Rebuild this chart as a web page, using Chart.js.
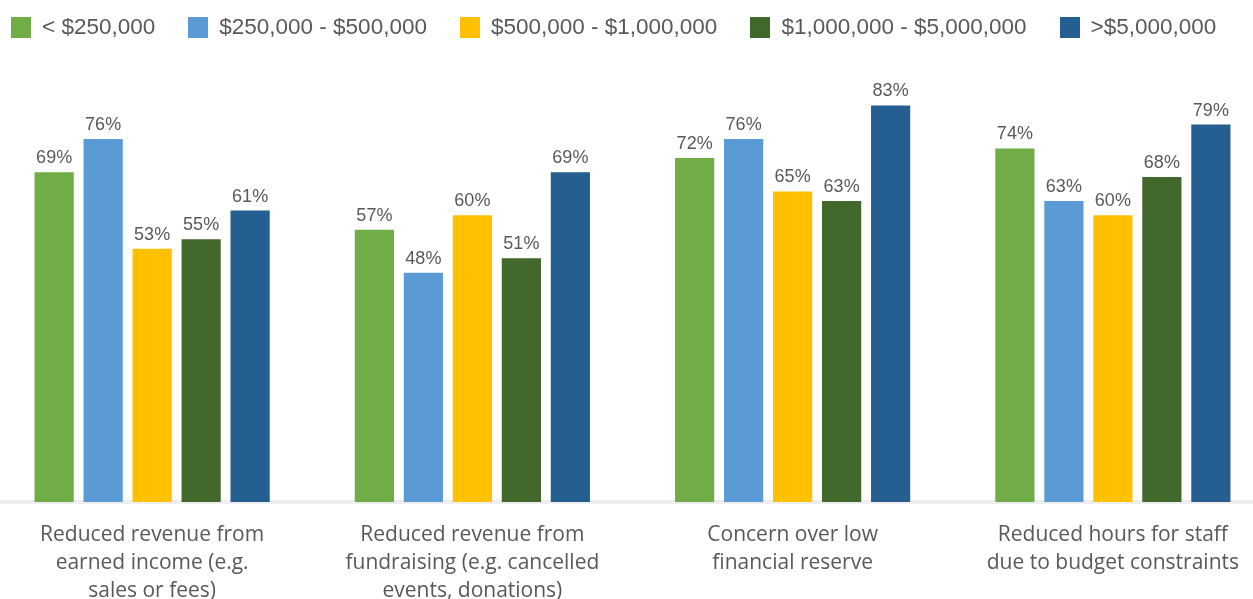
<!DOCTYPE html>
<html>
<head>
<meta charset="utf-8">
<script src="https://cdn.jsdelivr.net/npm/chart.js@4/dist/chart.umd.min.js"></script>
<style>
  html, body { margin: 0; padding: 0; background: #fff; overflow: hidden; }
  #wrap { position: absolute; left: -8px; top: 0; width: 1281px; height: 621px; }
  #legend { position: absolute; left: 11px; top: 14px; display: flex; align-items: center;
    font-family: "Liberation Sans", Arial, sans-serif; font-size: 22.5px; color: #595959; }
  #legend .item { display: flex; align-items: center; margin-right: 33px; }
  #legend .box { width: 20px; height: 21px; margin-right: 11px; }
</style>
</head>
<body>
<div id="wrap"><canvas id="mycanvas"></canvas></div>
<div id="legend"></div>
<script>
var categories = [
  ['Reduced revenue from', 'earned income (e.g.', 'sales or fees)'],
  ['Reduced revenue from', 'fundraising (e.g. cancelled', 'events, donations)'],
  ['Concern over low', 'financial reserve'],
  ['Reduced hours for staff', 'due to budget constraints']
];
var seriesNames = ['< $250,000', '$250,000 - $500,000', '$500,000 - $1,000,000', '$1,000,000 - $5,000,000', '>$5,000,000'];
var under250k = [69, 57, 72, 74];
var from250kTo500k = [76, 48, 76, 63];
var from500kTo1m = [53, 60, 65, 60];
var from1mTo5m = [55, 51, 63, 68];
var over5m = [61, 69, 83, 79];
var colors = ['#70AD47', '#5B9BD5', '#FFC000', '#43682B', '#255E91'];

var allValues = [under250k, from250kTo500k, from500kTo1m, from1mTo5m, over5m];

var datasets = [];
for (var i = 0; i < allValues.length; i++) {
  datasets.push({
    label: seriesNames[i],
    data: allValues[i],
    backgroundColor: colors[i],
    barPercentage: 0.8,
    categoryPercentage: 0.765
  });
}

// html legend
var legend = document.getElementById('legend');
for (var j = 0; j < seriesNames.length; j++) {
  var item = document.createElement('div');
  item.className = 'item';
  var box = document.createElement('span');
  box.className = 'box';
  box.style.background = colors[j];
  var txt = document.createElement('span');
  txt.textContent = seriesNames[j];
  item.appendChild(box);
  item.appendChild(txt);
  legend.appendChild(item);
}

var valueLabels = {
  id: 'valueLabels',
  afterDatasetsDraw: function(chart) {
    var ctx = chart.ctx;
    ctx.save();
    ctx.font = '18px "Liberation Sans", Arial, sans-serif';
    ctx.fillStyle = '#595959';
    ctx.textAlign = 'center';
    ctx.textBaseline = 'bottom';
    chart.data.datasets.forEach(function(ds, di) {
      var meta = chart.getDatasetMeta(di);
      meta.data.forEach(function(bar, k) {
        ctx.fillText(ds.data[k] + '%', bar.x, bar.y - 5);
      });
    });
    ctx.restore();
  }
};

var ctx = document.getElementById('mycanvas');
var barGraph = new Chart(ctx, {
  type: 'bar',
  data: { labels: categories, datasets: datasets },
  options: {
    responsive: true,
    maintainAspectRatio: false,
    animation: false,
    layout: { padding: { top: 72, bottom: 5, left: 0, right: 0 } },
    plugins: { legend: { display: false }, tooltip: { enabled: false } },
    scales: {
      x: {
        grid: { display: false },
        border: { display: true, color: '#EEEEEE', width: 4 },
        ticks: {
          color: '#595959',
          maxRotation: 0,
          autoSkip: false,
          padding: 11,
          font: { family: '"Open Sans", Lato, sans-serif', size: 21, lineHeight: 1.3333 }
        }
      },
      y: {
        display: false,
        min: 0,
        max: 90
      }
    }
  },
  plugins: [valueLabels]
});
</script>
</body>
</html>
